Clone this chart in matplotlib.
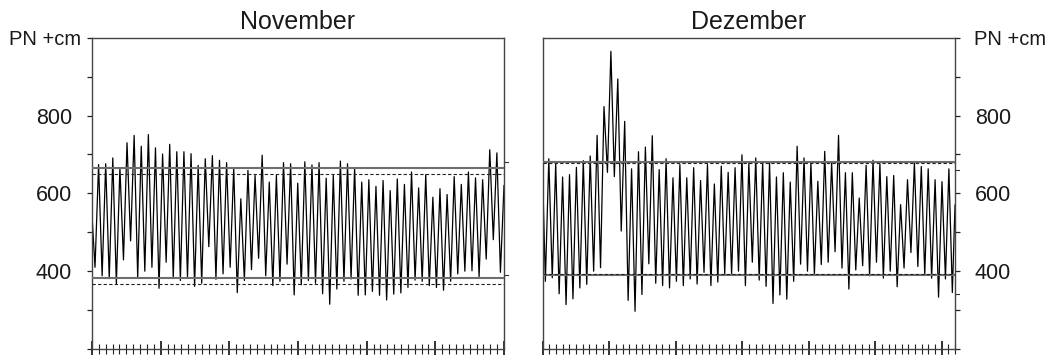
import numpy as np
import matplotlib
matplotlib.use("Agg")
import matplotlib.pyplot as plt
from matplotlib.ticker import MultipleLocator, FuncFormatter
import matplotlib.transforms as mtransforms

plt.rcParams['font.family'] = ['Liberation Sans', 'DejaVu Sans']

# ---------------- data ----------------
months = ["November", "Dezember"]
days_in_month = [30, 31]
y_unit = "PN +cm"
y_labels = [400, 600, 800]

# November: value at month start, low waters, high waters, value at month end
nov_start, nov_end = 543, 620
nov_low = [410, 388, 381, 367, 429, 478, 384, 400, 410, 356, 423, 382, 376, 384, 361,
           369, 463, 379, 393, 410, 345, 376, 404, 433, 388, 363, 374, 418, 339,
           365, 376, 369, 342, 315, 354, 374, 380, 338, 339, 348, 338, 326, 341,
           344, 358, 377, 374, 363, 358, 351, 374, 393, 400, 401, 386, 431, 481, 397]
nov_high = [674, 676, 691, 666, 730, 749, 721, 751, 717, 701, 726, 707, 707, 702, 672,
            689, 697, 685, 679, 665, 586, 659, 646, 698, 629, 646, 679, 676, 626,
            681, 673, 679, 639, 646, 683, 676, 666, 629, 635, 618, 633, 607, 637,
            623, 655, 614, 648, 590, 612, 597, 643, 623, 655, 640, 635, 712, 704]
nov_extreme_span = (0.22, 29.74)   # day of first and last tide extreme

# December
dec_start, dec_end = 640, 570
dec_low = [374, 383, 342, 314, 329, 357, 366, 400, 409, 654, 643, 503, 325, 297, 340,
           419, 369, 363, 357, 374, 363, 380, 367, 397, 363, 372, 393, 391, 400, 363,
           423, 377, 361, 317, 339, 328, 374, 418, 400, 391, 417, 423, 450, 408, 354,
           403, 414, 388, 423, 382, 400, 360, 408, 448, 412, 391, 382, 333, 380, 345]
dec_high = [689, 676, 642, 648, 667, 684, 696, 749, 823, 965, 894, 785, 663, 707, 719,
            748, 661, 689, 640, 674, 640, 666, 633, 674, 624, 670, 654, 666, 699, 678,
            691, 680, 679, 642, 653, 629, 721, 691, 679, 631, 708, 679, 749, 653, 653,
            588, 672, 685, 676, 643, 646, 571, 635, 679, 669, 663, 635, 630, 663]
dec_extreme_span = (0.20, 30.80)

# monthly means (solid) and long-term means (dashed)
nov_mean_levels = [665, 382]
nov_ref_levels = [650, 366]
dec_mean_levels = [681, 389]
dec_ref_levels = [678, 393]
# small marks on the right frame
nov_side_marks = [680, 391]
dec_side_marks = [660, 342]


def build_series(start, low, high, end):
    seq = [start]
    for i, lw in enumerate(low):
        seq.append(lw)
        if i < len(high):
            seq.append(high[i])
    seq.append(end)
    return seq


# ---------------- figure ----------------
W, H = 1060, 355
fig = plt.figure(figsize=(W / 100, H / 100), dpi=100)
bottom = (H - 349) / H
height = 311.3 / H
ax1 = fig.add_axes([92 / W, bottom, 412 / W, height])
ax2 = fig.add_axes([542.7 / W, bottom, 412.3 / W, height])

panels = [
    (ax1, nov_start, nov_low, nov_high, nov_end, nov_extreme_span,
     nov_mean_levels, nov_ref_levels, nov_side_marks),
    (ax2, dec_start, dec_low, dec_high, dec_end, dec_extreme_span,
     dec_mean_levels, dec_ref_levels, dec_side_marks),
]

fmt = FuncFormatter(lambda v, p: f"{int(round(v))}" if int(round(v)) in y_labels else "")

for k, (ax, st, lo, hi, en, span, means, refs, marks) in enumerate(panels):
    ndays = days_in_month[k]
    seq = build_series(st, lo, hi, en)
    n_ext = len(lo) + len(hi)
    times = np.concatenate([[0], np.linspace(span[0], span[1], n_ext), [ndays]])
    ax.plot(times, seq, color='black', lw=0.9, zorder=2)

    for v in means:
        ax.axhline(v, color='#6e6e6e', lw=1.5, zorder=3)
    for v in refs:
        ax.axhline(v, color='#222222', lw=0.8, ls=(0, (3, 2)), zorder=3)

    trans = mtransforms.blended_transform_factory(ax.transAxes, ax.transData)
    for v in marks:
        ax.plot([1.0, 1.009], [v, v], transform=trans, clip_on=False,
                color='#333333', lw=0.8)

    ax.set_xlim(0, ndays)
    ax.set_ylim(200, 1000)
    ax.xaxis.set_major_locator(MultipleLocator(5))
    ax.xaxis.set_minor_locator(MultipleLocator(0.5))
    ax.tick_params(axis='x', which='major', direction='inout', length=12, width=1.3,
                   labelbottom=False, top=False, color='#222222')
    ax.tick_params(axis='x', which='minor', direction='inout', length=7.5, width=0.8,
                   top=False, color='#222222')
    ax.yaxis.set_major_locator(MultipleLocator(100))
    ax.yaxis.set_major_formatter(fmt)
    ax.tick_params(axis='y', which='major', direction='out', length=3.5, width=0.9,
                   labelsize=15.5, pad=10.8, color='#222222', labelcolor='#1a1a1a')
    for s in ax.spines.values():
        s.set_color('#444444')
        s.set_linewidth(1.0)
    ax.set_title(months[k], fontsize=18, pad=6.5, color='#1a1a1a')

ax1.tick_params(axis='y', left=True, right=False, labelleft=True, labelright=False)
ax2.tick_params(axis='y', left=False, right=True, labelleft=False, labelright=True)

ax1.annotate(y_unit, xy=(0, 1000), xycoords=('axes fraction', 'data'),
             xytext=(-8, -1.5), textcoords='offset points', ha='right', va='center',
             fontsize=14.5, color='#1a1a1a')
ax2.annotate(y_unit, xy=(1, 1000), xycoords=('axes fraction', 'data'),
             xytext=(14, -1.5), textcoords='offset points', ha='left', va='center',
             fontsize=14.5, color='#1a1a1a')

fig.savefig("out.png", dpi=100)
